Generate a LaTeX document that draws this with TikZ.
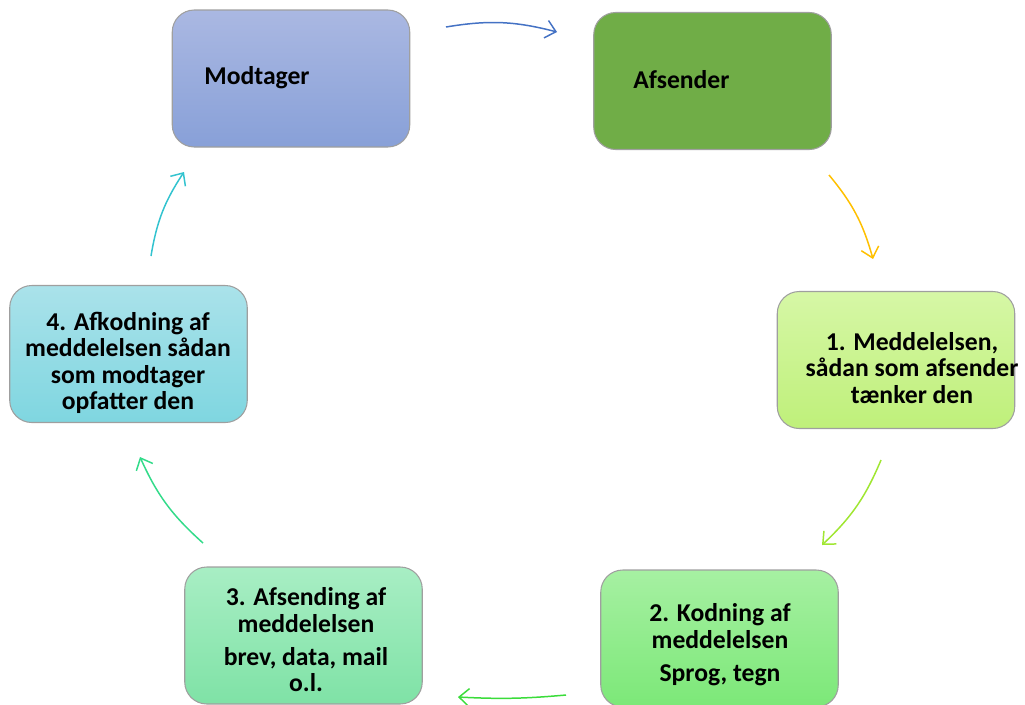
\documentclass[tikz,border=0pt]{standalone}
\usepackage{fontspec}
\setmainfont{Carlito}
\usetikzlibrary{arrows.meta}
\definecolor{modtop}{HTML}{AAB8E2}
\definecolor{modbot}{HTML}{88A0D8}
\definecolor{afsfill}{HTML}{70AD47}
\definecolor{onetop}{HTML}{D6F7A6}
\definecolor{onebot}{HTML}{BFF07A}
\definecolor{twotop}{HTML}{A6F0A2}
\definecolor{twobot}{HTML}{7CE878}
\definecolor{thrtop}{HTML}{A8EEC4}
\definecolor{thrbot}{HTML}{7FE2A6}
\definecolor{fourtop}{HTML}{AAE2EA}
\definecolor{fourbot}{HTML}{7FD6E0}
\definecolor{arblue}{HTML}{4472C4}
\definecolor{aryellow}{HTML}{FFC000}
\definecolor{arlime}{HTML}{A0E632}
\definecolor{argreen}{HTML}{3ADC3A}
\definecolor{arsea}{HTML}{33DB8A}
\definecolor{arteal}{HTML}{33C3CF}
\tikzset{
    box/.style={rectangle, rounded corners=0.44cm, draw=gray!75,
    	line width=0.6pt, minimum width=4.75cm, minimum height=2.74cm},
    txt/.style={font=\fontsize{14.6}{15}\selectfont\bfseries,
    	align=center, inner sep=0pt},
    flow/.style={line width=0.85pt,
    	-{Straight Barb[length=2mm,width=3.6mm]}, bend left=12}
}

\begin{document}
\begin{tikzpicture}
	\useasboundingbox (0,0) rectangle (20.5,-14.08);
	% boxes
	\node [box, top color=modtop, bottom color=modbot] (mod) at (5.82,-1.57) {};
	\node [box, fill=afsfill] (afs) at (14.25,-1.62) {};
	\node [box, top color=onetop, bottom color=onebot] (one) at (17.92,-7.2) {};
	\node [box, top color=twotop, bottom color=twobot] (two) at (14.39,-12.77) {};
	\node [box, top color=thrtop, bottom color=thrbot] (thr) at (6.07,-12.71) {};
	\node [box, top color=fourtop, bottom color=fourbot] (four) at (2.57,-7.08) {};
	% texts
	\node [txt, anchor=west] (mod-t) at (4.08,-1.56) {Modtager};
	\node [txt, anchor=west] (afs-t) at (12.66,-1.6) {Afsender};
	\node [txt] (one-t) at (18.24,-7.36)
		{1. Meddelelsen,\\ sådan som afsender\\ tænker den};
	\node [txt] (two-t) at (14.4,-12.9)
		{2. Kodning af\\ meddelelsen\\[4pt] Sprog, tegn};
	\node [txt] (thr-t) at (6.12,-12.8)
		{3. Afsending af\\ meddelelsen\\[4pt] brev, data, mail\\ o.l.};
	\node [txt] (four-t) at (2.56,-7.26)
		{4. Afkodning af\\ meddelelsen sådan\\ som modtager\\ opfatter den};
	% arrow ends
	\coordinate (a1) at (8.92,-0.54);  \coordinate (a2) at (11.14,-0.64);
	\coordinate (b1) at (16.58,-3.5);  \coordinate (b2) at (17.46,-5.18);
	\coordinate (c1) at (17.62,-9.2);  \coordinate (c2) at (16.44,-10.9);
	\coordinate (d1) at (11.32,-13.9); \coordinate (d2) at (9.16,-13.94);
	\coordinate (e1) at (4.06,-10.86); \coordinate (e2) at (2.8,-9.14);
	\coordinate (f1) at (3.02,-5.12);  \coordinate (f2) at (3.68,-3.44);
	\draw [flow, arblue] (a1) to (a2);
	\draw [flow, aryellow] (b1) to (b2);
	\draw [flow, arlime] (c1) to (c2);
	\draw [flow, argreen, bend left=4] (d1) to (d2);
	\draw [flow, arsea] (e1) to (e2);
	\draw [flow, arteal] (f1) to (f2);
\end{tikzpicture}
\end{document}
